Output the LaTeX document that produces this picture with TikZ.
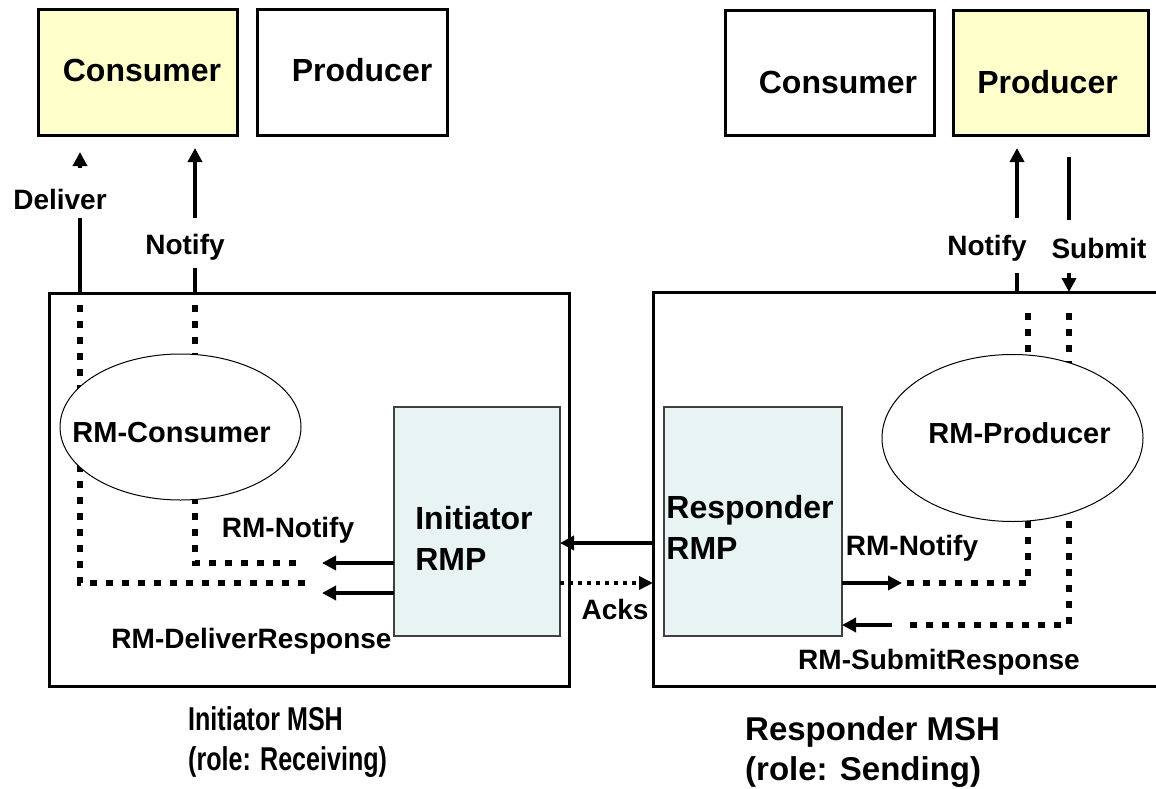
\documentclass[tikz,border=0pt]{standalone}
\usepackage{fontspec}
\usepackage{graphicx}
\setmainfont{Liberation Sans}
\usetikzlibrary{arrows.meta,shapes.geometric,backgrounds}
\definecolor{consY}{HTML}{FFFFCC}
\definecolor{rmpC}{HTML}{E8F4F4}
\begin{document}
\begin{tikzpicture}[x=1pt,y=-1pt,
  box/.style={draw, line width=3pt, rectangle, inner sep=0pt, outer sep=0pt},
  rmpbox/.style={draw=black!75, line width=1.3pt, fill=rmpC, rectangle, inner sep=0pt, outer sep=0pt},
  oval/.style={draw, ellipse, line width=1pt, fill=white, inner sep=0pt, outer sep=0pt},
  big/.style={font=\fontsize{32}{41}\selectfont\bfseries, inner sep=0pt},
  ovaltext/.style={font=\fontsize{29}{34}\selectfont\bfseries, inner sep=0pt},
  lbl/.style={font=\fontsize{28}{34}\selectfont\bfseries, inner sep=0pt},
  conn/.style={line width=3.5pt},
  arr/.style={line width=3.5pt, -{Triangle[length=14pt,width=14pt]}},
  dots/.style={line width=6.5pt, dash pattern=on 7pt off 9pt},
  smalldots/.style={line width=3.5pt, dash pattern=on 4pt off 5pt, -{Triangle[length=14pt,width=13pt]}}
]
\useasboundingbox (0,0) rectangle (1156,789);

% top application boxes
\node[box, fill=consY, minimum width=199pt, minimum height=126pt,
      label={[big, xshift=4.5pt, yshift=3pt]center:Consumer}] (c1) at (137.5,73) {};
\node[box, minimum width=190pt, minimum height=126pt,
      label={[big, xshift=10pt, yshift=3pt]center:Producer}] (p1) at (352,73) {};
\node[box, minimum width=209pt, minimum height=125pt,
      label={[big, xshift=8.5pt, yshift=-8.5pt]center:Consumer}] (c2) at (829.5,73.5) {};
\node[box, fill=consY, minimum width=195pt, minimum height=125pt,
      label={[big, xshift=-3pt, yshift=-8.5pt]center:Producer}] (p2) at (1050.5,73.5) {};

% MSH boxes
\node[box, minimum width=520pt, minimum height=393pt] (m1) at (309,489.5) {};
\node[box, minimum width=517pt, minimum height=394pt] (m2) at (911.5,489) {};

% RMP boxes
\node[rmpbox, minimum width=166pt, minimum height=229pt,
      label={[big, align=left, xshift=-3pt, yshift=-16.5pt]center:Initiator\\RMP}] (r1) at (477,521.5) {};
\node[rmpbox, minimum width=178pt, minimum height=229pt,
      label={[big, align=left, xshift=-3pt, yshift=-6pt]center:Responder\\RMP}] (r2) at (753,521.5) {};

% RM ellipses
\node[oval, minimum width=241pt, minimum height=146pt,
      label={[ovaltext, xshift=-9pt, yshift=-6pt]center:RM-Consumer}] (e1) at (180.5,427) {};
\node[oval, minimum width=261pt, minimum height=167pt,
      label={[ovaltext, xshift=7pt, yshift=5pt]center:RM-Producer}] (e2) at (1012.5,438) {};

% labels
\node[lbl] (lDeliver) at (60,199) {Deliver};
\node[lbl] (lNotifyL) at (185,247) {Notify};
\node[lbl] (lNotifyR) at (987,248) {Notify};
\node[lbl] (lSubmit) at (1099,248) {Submit};
\node[lbl] (lRMNotifyL) at (288,530) {RM-Notify};
\node[lbl] (lRMDeliver) at (251.5,641) {RM-DeliverResponse};
\node[lbl] (lAcks) at (615,609) {Acks};
\node[lbl] (lRMNotifyR) at (912,548) {RM-Notify};
\node[lbl] (lRMSubmit) at (939,662) {RM-SubmitResponse};
\node[anchor=north west, inner sep=0pt, align=left, font=\fontsize{33}{40.5}\selectfont\bfseries]
  (capL) at (188,706) {\scalebox{0.76}[1]{Initiator MSH}\\\scalebox{0.76}[1]{(role: Receiving)}};
\node[anchor=north west, inner sep=0pt, align=left, font=\fontsize{33}{40}\selectfont\bfseries]
  (capR) at (745,716) {Responder MSH\\(role: Sending)};

% helper coordinates
\coordinate (dA) at (80,218);   \coordinate (dB) at (80,168);   \coordinate (dT) at (80,152);
\coordinate (nA) at (195,268);  \coordinate (nB) at (195,218);  \coordinate (nT) at (195,148);
\coordinate (rnA) at (1017,273); \coordinate (rnB) at (1017,218); \coordinate (rnT) at (1017,148);
\coordinate (sA) at (1069,157); \coordinate (sB) at (1069,220); \coordinate (sC) at (1069,273);
\coordinate (yNotL) at (0,563); \coordinate (yDelL) at (0,593);
\coordinate (yResp) at (0,543); \coordinate (yAck) at (0,583);
\coordinate (yNotR) at (0,583); \coordinate (ySubR) at (0,625);
\coordinate (tipL) at (322,0);
\coordinate (tipNR) at (902,0); \coordinate (tailSR) at (892,0);

% top connectors, left
\draw[conn] (m1.north -| dA) -- (dA);
\draw[arr] (dB) -- (dT);
\draw[conn] (m1.north -| nA) -- (nA);
\draw[arr] (nB) -- (nT);
% top connectors, right
\draw[conn] (m2.north -| rnA) -- (rnA);
\draw[arr] (rnB) -- (rnT);
\draw[conn] (sA) -- (sB);
\draw[arr] (sC) -- (m2.north -| sC);

% RMP arrows
\draw[arr] (r1.west |- yNotL) -- (tipL |- yNotL);
\draw[arr] (r1.west |- yDelL) -- (tipL |- yDelL);
\draw[arr] (m2.west |- yResp) -- (r1.east |- yResp);
\draw[smalldots] (r1.east |- yAck) -- (m2.west |- yAck);
\draw[arr] (r2.east |- yNotR) -- (tipNR |- yNotR);
\draw[arr] (tailSR |- ySubR) -- (r2.east |- ySubR);

% dotted internal paths (behind ellipses)
\begin{scope}[on background layer]
\draw[dots] (80,305) -- (80,583) -- (305,583);
\draw[dots] (195,305) -- (195,563) -- (297,563);
\draw[dots] (1028,313) -- (1028,583) -- (904,583);
\draw[dots] (1069,313) -- (1069,625) -- (907,625);
\end{scope}
\end{tikzpicture}
\end{document}
